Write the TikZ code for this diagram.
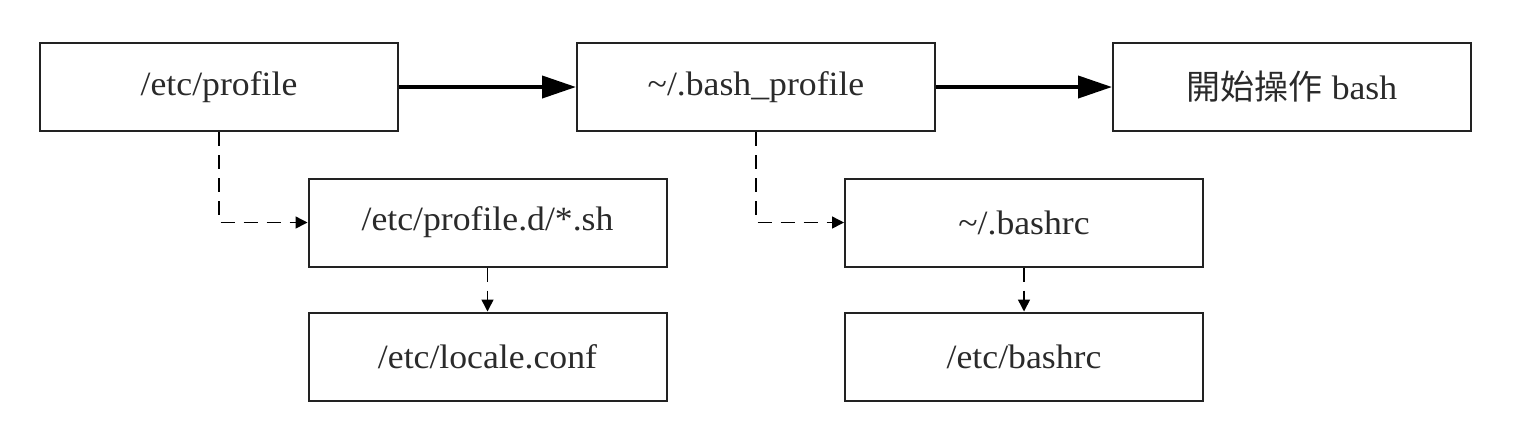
\documentclass[tikz,border=0pt]{standalone}
\usepackage{fontspec}
\setmainfont{Liberation Serif}[FakeStretch=1.05]
\newfontfamily\cjkfont{Noto Sans CJK TC}
\usetikzlibrary{arrows.meta}
\definecolor{linec}{HTML}{222222}
\definecolor{textc}{HTML}{2a2a2a}
\tikzset{
  x=0.5pt, y=-0.5pt,
  filebox/.style={draw=linec, line width=1pt, minimum width=179pt, minimum height=44pt,
    inner sep=0pt, font=\fontsize{17}{19}\selectfont, text=textc},
  mainarrow/.style={draw=black, line width=2pt, -{Triangle[length=17pt,width=11pt]}},
  subarrow/.style={draw=black, line width=0.75pt, dash pattern=on 7pt off 4.5pt,
    -{Triangle[length=6pt,width=6pt]}}
}
\begin{document}
\begin{tikzpicture}
\useasboundingbox (0,0) rectangle (1518,420);
\node[filebox] (A) at (219,87) {/etc/profile};
\node[filebox] (B) at (756,87) {\char`\~/.bash\_profile};
\node[filebox] (C) at (1292,87) {{\cjkfont 開始操作} bash};
\node[filebox] (D) at (487.5,222.5) {/etc/profile.d/*.sh};
\node[filebox] (E) at (1024,222.5) {\char`\~/.bashrc};
\node[filebox] (F) at (487.5,356.5) {/etc/locale.conf};
\node[filebox] (G) at (1024,356.5) {/etc/bashrc};
\draw[mainarrow] (A) -- (B);
\draw[mainarrow] (B) -- (C);
\draw[subarrow] (A.south) |- (D.west);
\draw[subarrow] (B.south) |- (E.west);
\draw[subarrow] (D) -- (F);
\draw[subarrow] (E) -- (G);
\end{tikzpicture}
\end{document}
